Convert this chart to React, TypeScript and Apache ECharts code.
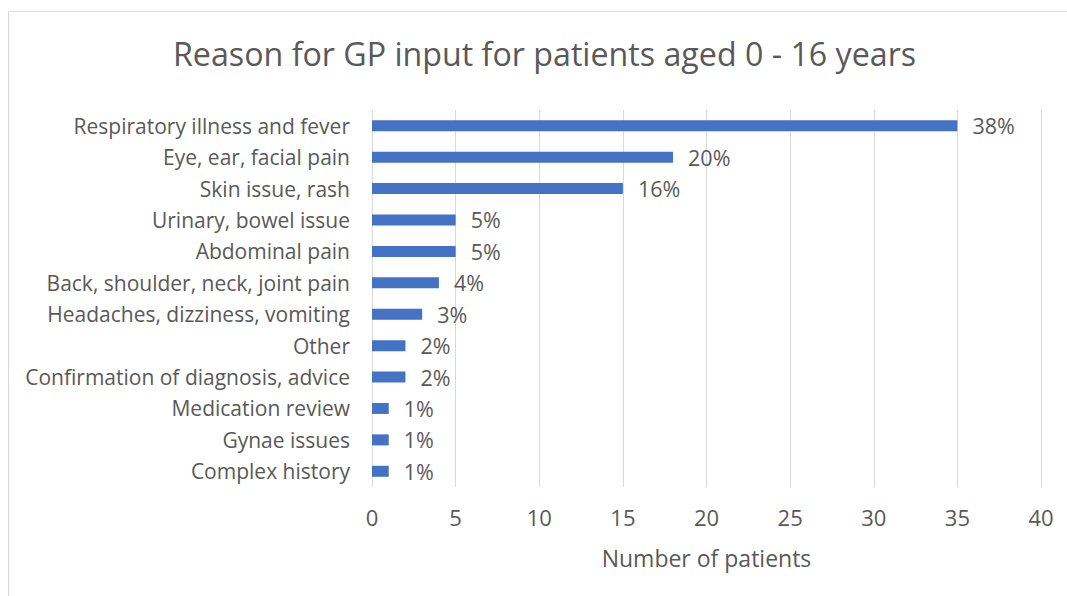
import React, { useEffect, useRef } from "react";
import * as echarts from "echarts";

const categories = [
  "Respiratory illness and fever",
  "Eye, ear, facial pain",
  "Skin issue, rash",
  "Urinary, bowel issue",
  "Abdominal pain",
  "Back, shoulder, neck, joint pain",
  "Headaches, dizziness, vomiting",
  "Other",
  "Confirmation of diagnosis, advice",
  "Medication review",
  "Gynae issues",
  "Complex history",
];
const patients = [35, 18, 15, 5, 5, 4, 3, 2, 2, 1, 1, 1];
const percentLabels = ["38%", "20%", "16%", "5%", "5%", "4%", "3%", "2%", "2%", "1%", "1%", "1%"];
const xTicks = [0, 5, 10, 15, 20, 25, 30, 35, 40];

const FONT = "'Open Sans', 'Noto Sans', sans-serif";
const TEXT = "#595959";

export default function App() {
  const ref = useRef<HTMLDivElement>(null);
  useEffect(() => {
    document.body.style.margin = "0";
    const chart = echarts.init(ref.current!, null, { renderer: "svg" });
    chart.setOption({
      animation: false,
      backgroundColor: "#ffffff",
      textStyle: { fontFamily: FONT },
      title: {
        text: "Reason for GP input for patients aged 0 - 16 years",
        left: 168,
        top: 32,
        textStyle: { fontFamily: FONT, fontSize: 32.2, fontWeight: "normal", color: TEXT },
      },
      graphic: [
        {
          type: "rect",
          shape: { x: 8.5, y: 11.5, width: 1080, height: 600 },
          style: { fill: "none", stroke: "#d9d9d9", lineWidth: 1 },
          silent: true,
        },
      ],
      grid: { left: 372, right: 26, top: 110, bottom: 109, containLabel: false },
      xAxis: {
        type: "value",
        min: xTicks[0],
        max: xTicks[xTicks.length - 1],
        interval: 5,
        name: "Number of patients",
        nameLocation: "middle",
        nameGap: 59,
        nameTextStyle: { fontFamily: FONT, fontSize: 23, color: TEXT },
        axisLine: { show: false },
        axisTick: { show: false },
        axisLabel: { fontFamily: FONT, fontSize: 22, color: TEXT, margin: 19 },
        splitLine: { show: true, lineStyle: { color: "#d9d9d9", width: 1 } },
      },
      yAxis: {
        type: "category",
        data: categories,
        inverse: true,
        axisLine: { show: false },
        axisTick: { show: false },
        axisLabel: { fontFamily: FONT, fontSize: 21, color: TEXT, margin: 22 },
        splitLine: { show: false },
      },
      series: [
        {
          type: "bar",
          data: patients,
          barWidth: 11,
          itemStyle: { color: "#4472C4" },
          label: {
            show: true,
            position: "right",
            distance: 15,
            fontFamily: FONT,
            fontSize: 21.5,
            color: TEXT,
            formatter: (p: any) => percentLabels[p.dataIndex],
          },
        },
      ],
    });
    return () => chart.dispose();
  }, []);
  return <div ref={ref} style={{ width: 1067, height: 596 }} />;
}
